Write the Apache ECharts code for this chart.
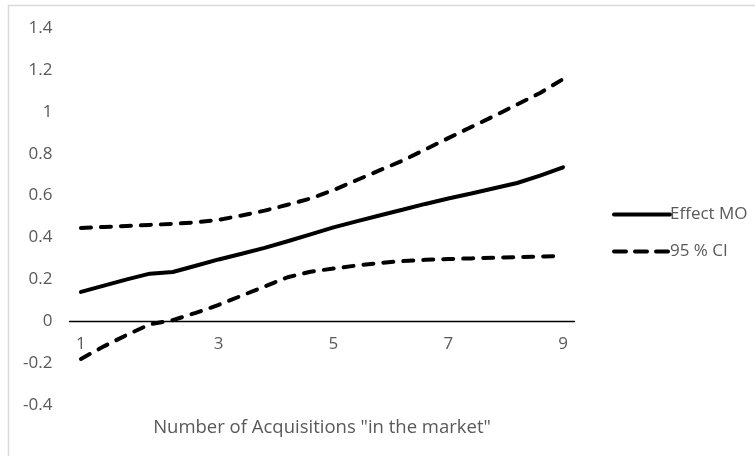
<!DOCTYPE html>
<html>
<head>
<meta charset="utf-8">
<script src="https://cdn.jsdelivr.net/npm/echarts@6/dist/echarts.min.js"></script>
<style>
  html, body { margin: 0; padding: 0; background: #fff; }
  #chart { width: 755px; height: 456px; }
</style>
</head>
<body>
<div id="chart"></div>
<script>
// x positions (number of acquisitions), an extra point sits at 2
var acquisitions = ['1', '1.4', '1.8', '2', '2.2', '2.6', '3', '3.4', '3.8', '4.2', '4.6',
                    '5', '5.4', '5.8', '6.2', '6.6', '7', '7.4', '7.8', '8.2', '8.6', '9'];
var effectMO = [0.14, 0.17, 0.20, 0.227, 0.235, 0.265, 0.295, 0.322, 0.35, 0.382, 0.415,
                0.448, 0.477, 0.505, 0.532, 0.56, 0.586, 0.61, 0.635, 0.66, 0.695, 0.735];
var ciUpper = [0.445, 0.45, 0.455, 0.46, 0.465, 0.472, 0.484, 0.505, 0.528, 0.556, 0.586,
               0.626, 0.673, 0.72, 0.766, 0.82, 0.874, 0.927, 0.98, 1.035, 1.09, 1.156];
var ciLower = [-0.18, -0.12, -0.065, -0.015, 0.005, 0.04, 0.078, 0.122, 0.166, 0.21, 0.236,
               0.252, 0.266, 0.278, 0.287, 0.293, 0.297, 0.3, 0.303, 0.306, 0.309, 0.312];
var shownTicks = ['1', '3', '5', '7', '9'];

var font = 'Open Sans';
var grey = '#595959';

var myChart = echarts.init(document.getElementById('chart'));

function ciSeries(data) {
  return {
    name: '95 % CI',
    type: 'line',
    data: data,
    symbol: 'none',
    lineStyle: { color: '#000', width: 4, type: [10, 10], cap: 'round' },
    itemStyle: { color: '#000' }
  };
}

var option = {
  animation: false,
  backgroundColor: '#fff',
  textStyle: { fontFamily: font },
  graphic: [{
    type: 'rect',
    shape: { x: 8.5, y: 5.5, width: 760, height: 470 },
    style: { fill: 'none', stroke: '#d9d9d9', lineWidth: 1.5 },
    silent: true
  }],
  grid: { left: 69.5, right: 180.5, top: 28, bottom: 51, outerBoundsMode: 'none' },
  legend: {
    orient: 'vertical',
    left: 607,
    top: 201,
    itemWidth: 56,
    itemHeight: 14,
    itemGap: 20,
    itemStyle: { opacity: 0 },
    textStyle: { color: grey, fontSize: 17, fontFamily: font, padding: [0, 0, 0, -5] },
    data: [
      { name: 'Effect MO', lineStyle: { width: 4, cap: 'round' } },
      { name: '95 % CI', lineStyle: { width: 4, type: [12, 9], cap: 'round' } }
    ]
  },
  xAxis: {
    type: 'category',
    data: acquisitions,
    boundaryGap: true,
    position: 'bottom',
    offset: -84,
    axisLine: { onZero: false, lineStyle: { color: '#000', width: 1.3 } },
    axisTick: { show: false },
    splitLine: { show: false },
    axisLabel: {
      interval: 0,
      color: grey,
      fontSize: 17,
      margin: 15,
      formatter: function (v) { return shownTicks.indexOf(v) >= 0 ? v : ''; }
    },
    name: 'Number of Acquisitions "in the market"',
    nameLocation: 'middle',
    nameGap: 97,
    nameTextStyle: { color: grey, fontSize: 18.5, fontFamily: font }
  },
  yAxis: {
    type: 'value',
    min: -0.4,
    max: 1.4,
    interval: 0.2,
    axisLine: { show: false },
    axisTick: { show: false },
    splitLine: { show: false },
    axisLabel: {
      color: grey,
      fontSize: 17,
      margin: 17,
      formatter: function (v) { return String(Math.round(v * 10) / 10); }
    }
  },
  series: [
    {
      name: 'Effect MO',
      type: 'line',
      data: effectMO,
      symbol: 'none',
      lineStyle: { color: '#000', width: 4, cap: 'round' },
      itemStyle: { color: '#000' }
    },
    ciSeries(ciUpper),
    ciSeries(ciLower)
  ]
};

myChart.setOption(option);
</script>
</body>
</html>
